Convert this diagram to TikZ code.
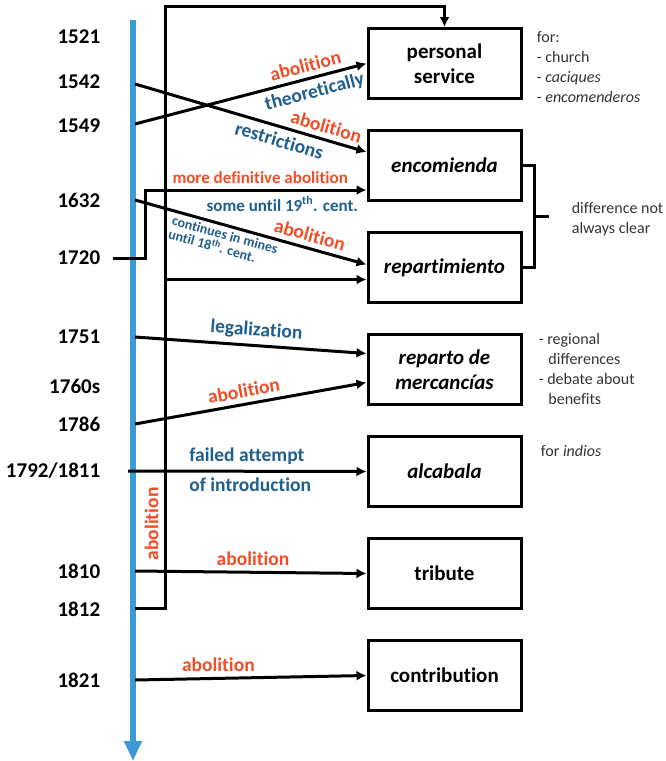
\documentclass[tikz,border=0pt]{standalone}
\usepackage{fontspec}
\setmainfont{Carlito}[Ligatures=CommonOff]
\usepackage{xcolor}
\usetikzlibrary{arrows.meta}
\definecolor{abored}{HTML}{F04E27}
\definecolor{noteblue}{HTML}{1F5E8E}
\definecolor{lineblue}{HTML}{3D9AD6}
\definecolor{notegray}{HTML}{333333}

\begin{document}
\begin{tikzpicture}[x=1pt, y=-1pt, node distance=102pt, line width=3pt, >={Latex[length=10pt,width=10pt]},
    box/.style={draw, minimum width=153pt, minimum height=70pt, align=center, font=\fontsize{21}{25}\selectfont\bfseries},
    year/.style={anchor=east, font=\fontsize{21}{25}\selectfont\bfseries},
    abo/.style={text=abored, inner sep=5pt, font=\fontsize{19.5}{21}\selectfont\bfseries},
    expl/.style={text=noteblue, inner sep=5pt, font=\fontsize{19.5}{21}\selectfont\bfseries},
    note/.style={anchor=north west, align=left, text=notegray, font=\fontsize{16}{20}\selectfont}]
    \useasboundingbox (0,0) rectangle (666,761);

    \node[year] (y1521) at (105,37) {1521};
    \node[year] (y1542) at (105,82) {1542};
    \node[year] (y1549) at (105,126) {1549};
    \node[year] (y1632) at (105,200) {1632};
    \node[year] (y1720) at (105,258) {1720};
    \node[year] (y1751) at (105,337) {1751};
    \node[year] (y1760) at (105,386) {1760s};
    \node[year] (y1786) at (105,424) {1786};
    \node[year] (y1792) at (105,471) {1792/1811};
    \node[year] (y1810) at (105,571) {1810};
    \node[year] (y1812) at (105,609) {1812};
    \node[year] (y1821) at (105,680) {1821};

    \node[box] (ps) at (444.5,63.5) {personal\\service};
    \node[box, below of=ps] (enc) {\textit{encomienda}};
    \node[box, below of=enc] (rep) {\textit{repartimiento}};
    \node[box, below of=rep] (rdm) {\textit{reparto de}\\\textit{mercancías}};
    \node[box, below of=rdm] (alc) {\textit{alcabala}};
    \node[box, below of=alc] (trib) {tribute};
    \node[box, below of=trib] (contr) {contribution};

    \node[note] (psnote) at (532,27) {for:\\- church\\- \textit{caciques}\\- \textit{encomenderos}};
    \node[note, anchor=west] (diff) at (567,219) {difference not\\always clear};
    \node[note] (rdmnote) at (534,329) {- regional\\\hspace*{0.6em}differences\\- debate about\\\hspace*{0.6em}benefits};
    \node[note] (alcnote) at (536,441) {for \textit{indios}};

    \coordinate (t1542) at (135,84);
    \coordinate (t1549) at (135,124);
    \coordinate (t1632) at (135,200);
    \coordinate (t1720) at (113,258);
    \coordinate (t1751) at (135,337);
    \coordinate (t1786) at (135,424);
    \coordinate (t1792) at (128,471);
    \coordinate (t1810) at (135,571);
    \coordinate (t1812) at (135,608);
    \coordinate (t1821) at (135,680);
    \coordinate (spine) at (165,0);

    \draw[lineblue, line width=6pt, -{Triangle[length=20pt,width=17pt]}] (133,20) -- (133,761);

    \draw[->] (t1549) -- (ps.west) node[abo, pos=0.75, above, sloped] {abolition} node[expl, pos=0.76, below, sloped] {theoretically};
    \draw[->] (t1542) -- ([yshift=13.5pt]enc.west) node[abo, pos=0.81, above, sloped] {abolition} node[expl, pos=0.64, below, sloped] {restrictions};
    \draw[->] (t1720) -- ++(32,0) |- ([yshift=-24.5pt]enc.west) node[abo, pos=0.76, above, font=\fontsize{17}{19}\selectfont\bfseries] {more definitive abolition} node[expl, pos=0.81, below, font=\fontsize{17}{19}\selectfont\bfseries] {some until 19\textsuperscript{th}. cent.};
    \draw[->] (t1632) -- ([yshift=3pt]rep.west) node[abo, pos=0.74, above, sloped] {abolition} node[expl, pos=0.40, below, sloped, align=left, inner sep=3pt, font=\fontsize{14}{14}\selectfont\bfseries] {continues in mines\\until 18\textsuperscript{th}. cent.};
    \draw[->] ([yshift=-12pt]rep.west -| spine) -- ([yshift=-12pt]rep.west);
    \draw[->] (t1812) -- ++(30,0) |- ([yshift=21pt]ps.north) -- (ps.north);
    \draw (t1812) ++(30,0) -- ++(0,-601) node[abo, pos=0.14, above, sloped] {abolition};
    \draw[->] (t1751) -- ([yshift=16pt]rdm.west) node[expl, pos=0.52, above, sloped] {legalization};
    \draw[->] (t1786) -- ([yshift=-13pt]rdm.west) node[abo, pos=0.48, above, sloped] {abolition};
    \draw[->] (t1792) -- (alc.west) node[expl, pos=0.23, anchor=south west] {failed attempt} node[expl, pos=0.23, anchor=north west] {of introduction};
    \draw[->] (t1810) -- (trib.west) node[abo, pos=0.51, above] {abolition};
    \draw[->] (t1821) -- (contr.west) node[abo, pos=0.36, above] {abolition};

    \draw (enc.east) -- ++(12,0) |- (rep.east) coordinate[pos=0.25] (bmid);
    \draw (bmid) -- ++(14,0);
\end{tikzpicture}
\end{document}
